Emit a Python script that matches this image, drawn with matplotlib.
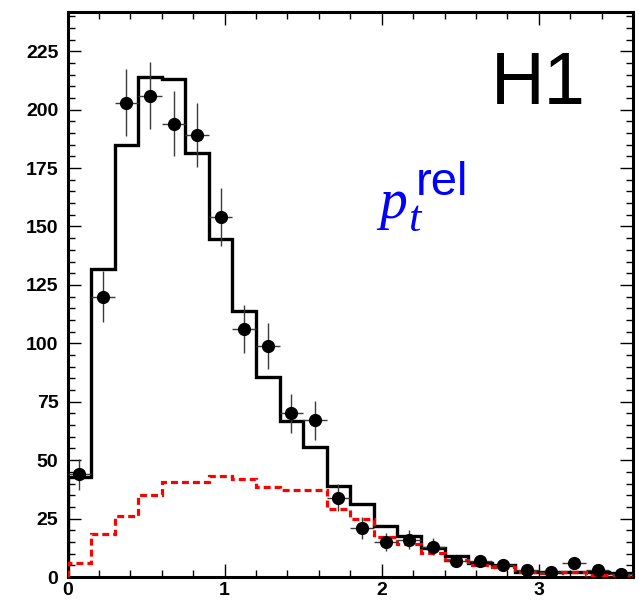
import numpy as np
import matplotlib
matplotlib.use("Agg")
import matplotlib.pyplot as plt
from matplotlib.ticker import MultipleLocator

# ---- data ----
bin_width = 0.15
n_bins = 24
mc_total = [43, 132, 185, 214, 213, 181.5, 144.5, 114, 85.5, 66.7, 55.5, 39, 31.3,
            21.8, 17.5, 12.5, 9, 6.2, 5, 2.3, 2, 2, 2, 1.5]
mc_bg = [6, 18.4, 26.2, 35, 40.8, 40.8, 43.2, 41.8, 38.4, 37.2, 37.2, 29, 24.7,
         17.2, 14.1, 10.1, 7.3, 5.1, 4.4, 2.3, 1.9, 2.1, 0.9, 0.9]
data_y = [44, 120, 203, 206, 194, 189, 154, 106, 99, 70, 67, 34, 21,
          15, 16, 13, 7, 7, 5, 3, 2, 6, 3, 1.3]
data_err = [6.6, 11, 14.2, 14.4, 13.9, 13.7, 12.4, 10.3, 9.9, 8.4, 8.2, 5.8, 4.6,
            3.9, 4.0, 3.6, 2.6, 2.6, 2.2, 1.7, 1.4, 2.4, 1.7, 1.1]
x_ticks = [0, 1, 2, 3]
y_ticks = [0, 25, 50, 75, 100, 125, 150, 175, 200, 225]

edges = np.arange(n_bins + 1) * bin_width
centers = (edges[:-1] + edges[1:]) / 2

W, H = 639, 600
plt.rcParams['lines.scale_dashes'] = False
fig = plt.figure(figsize=(W / 100, H / 100), dpi=100)

def fx(px):
    return px / W

def fy(py):
    return 1 - py / H

ax = fig.add_axes([fx(67.5), fy(577), fx(633) - fx(67.5), fy(11.5) - fy(577)])

ax.stairs(mc_total, edges, baseline=0, color='black', lw=2.4, zorder=2)
ax.stairs(mc_bg, edges, baseline=0, color='#ff0000', lw=2.3,
          linestyle=(0, (5, 2.9)), zorder=3)
ax.errorbar(centers, data_y, yerr=data_err, xerr=bin_width / 2, fmt='o',
            color='black', ms=8.5, ecolor='#3a3a3a', elinewidth=1.0,
            capsize=0, zorder=4)

ax.set_xlim(0, 3.6)
ax.set_ylim(0, 242)
ax.set_xticks(x_ticks)
ax.set_yticks(y_ticks)
ax.xaxis.set_minor_locator(MultipleLocator(0.2))
ax.yaxis.set_minor_locator(MultipleLocator(5))
ax.tick_params(which='both', direction='in', top=True, right=True, width=1,
               labelsize=14, pad=6.5)
ax.tick_params(axis='x', which='major', pad=3.5)
ax.tick_params(which='major', length=9.4)
ax.tick_params(which='minor', length=5)
for lab in ax.get_xticklabels() + ax.get_yticklabels():
    lab.set_fontfamily('Liberation Sans')
    lab.set_fontweight('bold')
for sp in ax.spines.values():
    sp.set_linewidth(2.2)

fig.text(fx(491), fy(104), 'H1', fontsize=53.5, family='Liberation Sans',
         ha='left', va='baseline')
fig.text(fx(379), fy(218), 'p', fontsize=40, family='Liberation Serif',
         style='italic', color='#0000ff', ha='left', va='baseline')
fig.text(fx(408), fy(231), 't', fontsize=32, family='Liberation Serif',
         style='italic', color='#0000ff', ha='left', va='baseline')
fig.text(fx(416), fy(195), 'rel', fontsize=34, family='Liberation Sans',
         color='#0000ff', ha='left', va='baseline')

fig.savefig('out.png', dpi=100)
